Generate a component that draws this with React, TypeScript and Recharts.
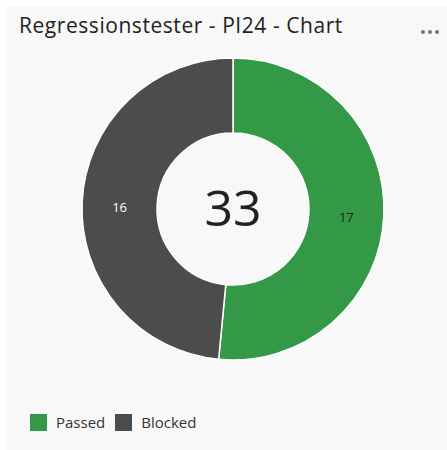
import React from 'react';
import { PieChart, Pie, Cell, Legend } from 'recharts';

const categories = ['Passed', 'Blocked'];
const values = [17, 16];
const colors = ['#339947', '#4c4c4c'];
const labelColors = ['#222222', '#ffffff'];

const data = categories.map((name, i) => ({ name, value: values[i] }));
const total = values.reduce((a, b) => a + b, 0);

const RAD = Math.PI / 180;
const FONT = '"Open Sans", "Noto Sans", sans-serif';

const renderLabel = (props: any) => {
  const { cx, cy, midAngle, innerRadius, outerRadius, index, value } = props;
  const r = (innerRadius + outerRadius) / 2;
  const x = cx + r * Math.cos(-midAngle * RAD);
  const y = cy + r * Math.sin(-midAngle * RAD);
  return (
    <text x={x} y={y} dy={8} textAnchor="middle" fill={labelColors[index]} fontSize={13} fontFamily={FONT}>
      {value}
    </text>
  );
};

// keep legend in data order
const LegendContent = ({ payload }: any) => {
  const items = [...(payload || [])].sort(
    (a: any, b: any) => categories.indexOf(a.value) - categories.indexOf(b.value)
  );
  return (
    <div style={{ display: 'flex', alignItems: 'center', fontFamily: FONT, fontSize: 15, color: '#333' }}>
      {items.map((p: any, i: number) => (
        <div key={`leg-${i}`} style={{ display: 'flex', alignItems: 'center', marginRight: 10 }}>
          <span style={{ width: 17, height: 17, background: p.color, display: 'inline-block', marginRight: 9 }} />
          <span>{p.value}</span>
        </div>
      ))}
    </div>
  );
};

export default function App() {
  return (
    <div style={{ position: 'absolute', left: 0, top: 0, width: 447, height: 450, background: '#ffffff' }}>
      <div style={{ position: 'absolute', left: 6, top: 7, width: 441, height: 443, background: '#f8f8f8' }} />
      <div style={{ position: 'absolute', left: 19, top: 11, fontFamily: FONT, fontSize: 21, letterSpacing: 0.55, color: '#222', whiteSpace: 'nowrap' }}>
        Regressionstester - PI24 - Chart
      </div>
      <div style={{ position: 'absolute', left: 421, top: 30, display: 'flex' }}>
        {[0, 1, 2].map((d) => (
          <span key={d} style={{ width: 4, height: 4, borderRadius: 2, background: '#777', marginRight: 3 }} />
        ))}
      </div>
      <div style={{ position: 'absolute', left: 0, top: 0 }}>
        <PieChart width={447} height={450} margin={{ top: 0, right: 0, bottom: 0, left: 0 }}>
          <Pie
            data={data}
            dataKey="value"
            nameKey="name"
            cx={233}
            cy={209}
            innerRadius={76}
            outerRadius={151}
            startAngle={90}
            endAngle={-270}
            stroke="#ffffff"
            strokeWidth={1.5}
            label={renderLabel}
            labelLine={false}
            isAnimationActive={false}
          >
            {data.map((entry, i) => (
              <Cell key={`cell-${i}`} fill={colors[i]} />
            ))}
          </Pie>
          <text x={233} y={209} dy={17} textAnchor="middle" fontSize={50} fontFamily={FONT} fill="#222">
            {total}
          </text>
          <Legend
            content={<LegendContent />}
            wrapperStyle={{ position: 'absolute', left: 30, top: 412, width: 300 }}
          />
        </PieChart>
      </div>
    </div>
  );
}
